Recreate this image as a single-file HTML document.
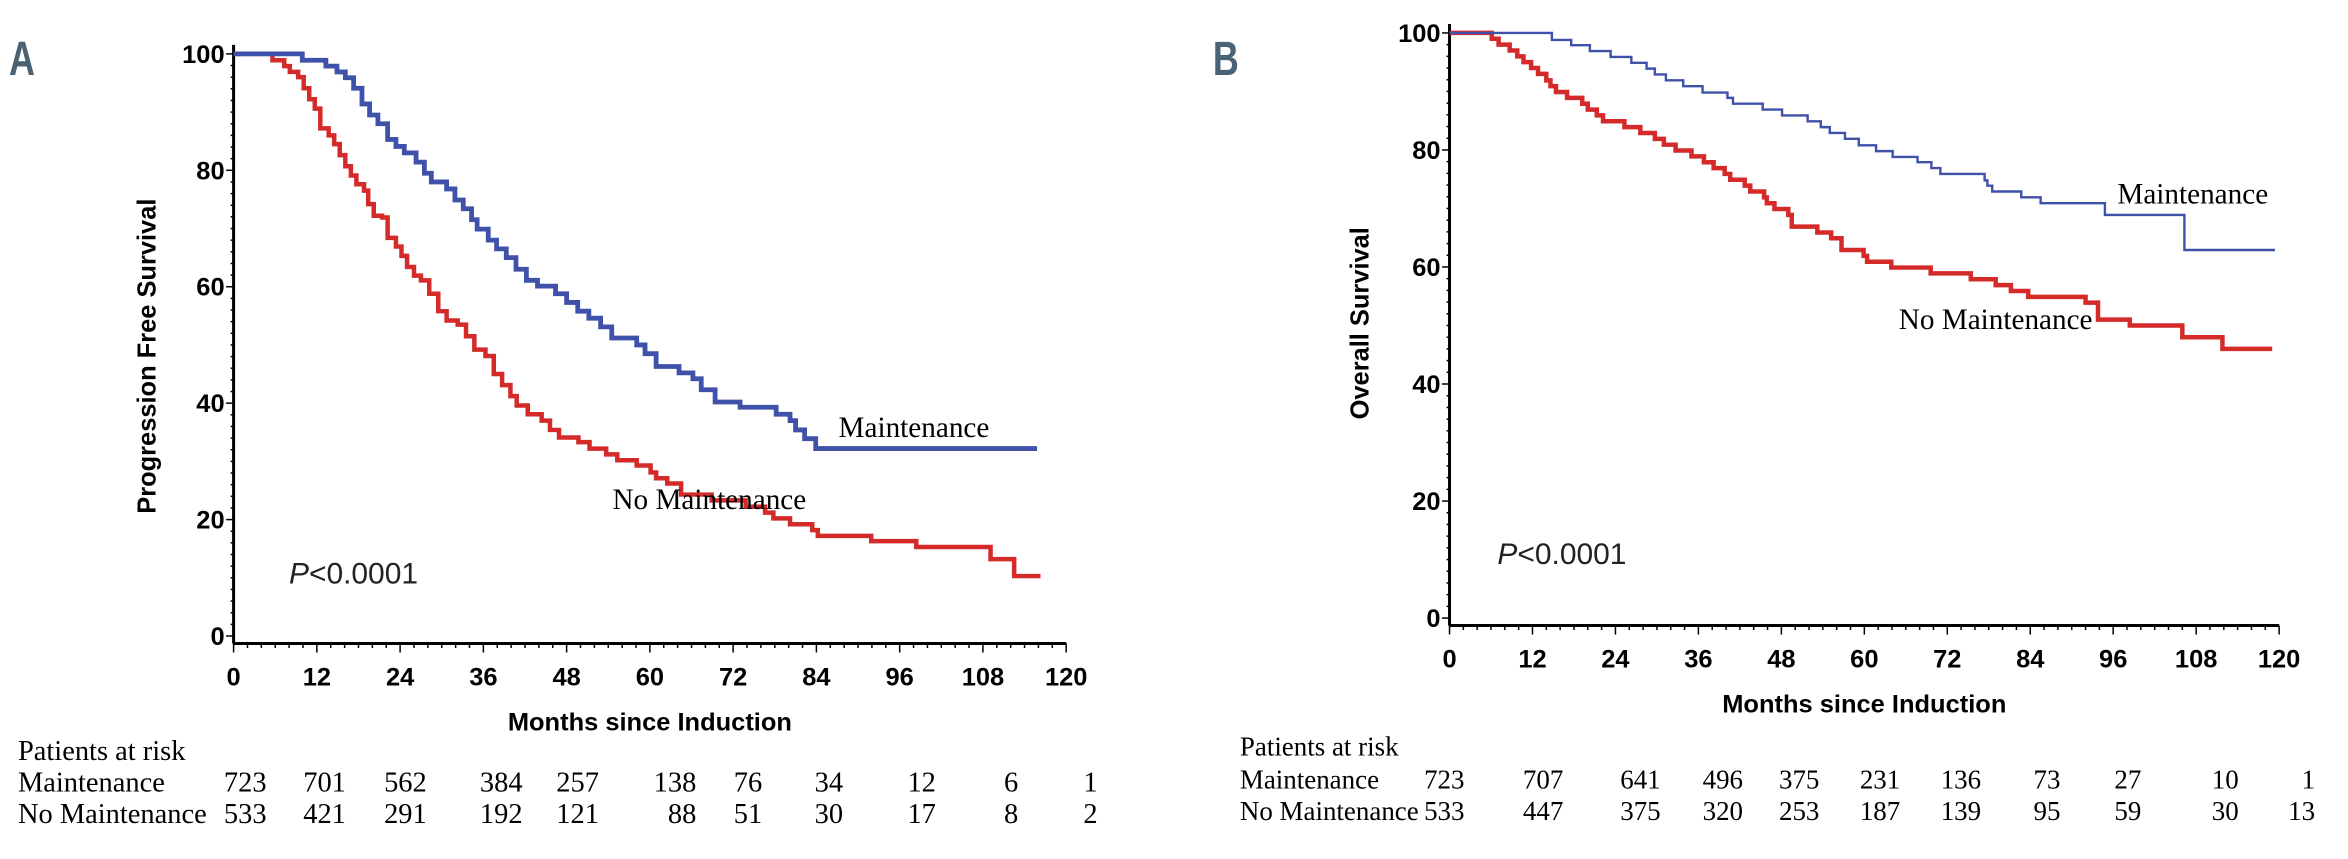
<!DOCTYPE html>
<html><head><meta charset="utf-8"><style>
html,body{margin:0;padding:0;background:#fff;}
svg{display:block;}
.tick{font-family:"Liberation Sans",sans-serif;font-weight:bold;font-size:17px;fill:#000;}
.title{font-family:"Liberation Sans",sans-serif;font-weight:bold;font-size:17px;fill:#000;}
.serif{font-family:"Liberation Serif",serif;font-size:19.5px;fill:#000;}
.rserif{font-family:"Liberation Serif",serif;font-size:19px;fill:#000;}
.rserifb{font-family:"Liberation Serif",serif;font-size:18px;fill:#000;}
.pv{font-family:"Liberation Sans",sans-serif;font-size:20px;fill:#222;}
.panel{font-family:"Liberation Sans",sans-serif;font-weight:bold;font-size:32px;fill:#4a6274;}
</style></head><body>
<svg id="fig" width="2348" height="859" viewBox="0 0 1568 574" preserveAspectRatio="none" xmlns="http://www.w3.org/2000/svg">
<text class="panel" x="6" y="50" transform="translate(6,50) scale(0.75,1) translate(-6,-50)">A</text>
<text class="panel" x="810" y="50" transform="translate(810,50) scale(0.75,1) translate(-810,-50)">B</text>
</svg>
<script>
// ---- Data ----
const xTicks = [0,12,24,36,48,60,72,84,96,108,120];
const yTicks = [0,20,40,60,80,100];
// Panel A (PFS) step points [month, survival %]
const pfsMaintMonths = [0,9.9,13.3,14.9,16.1,17.3,18.5,19.6,20.8,22.2,23.4,24.6,26.3,27.5,28.5,30.7,31.9,33.1,34.3,35.1,36.7,37.9,39.3,40.7,42.2,43.8,46.4,48,49.6,51.2,52.9,54.5,58.1,59.3,60.9,64.2,66.2,67.4,69.4,73,78.2,80.2,81,82.3,83.9,115.8];
const pfsMaintValues = [100,98.9,97.9,96.9,95.9,94.1,91.4,89.5,88,85.3,84.1,83,81.4,79.5,78,76.8,74.9,73.4,71.5,69.9,68,66.5,65,63,61.1,60.1,58.8,57.3,55.8,54.6,53.1,51.2,50,48.5,46.3,45.2,44.2,42.3,40.2,39.3,38.1,37,35.4,33.9,32.2,32.2];
const pfsNoMaintMonths = [0,5.6,7.3,8.1,9.3,10.1,10.9,11.7,12.5,13.7,14.5,15.3,16.1,16.9,17.7,18.8,19.4,20.2,21.4,22.2,23.4,24.2,25,26,27,28.2,29.5,30.7,32.3,33.5,34.7,36.3,37.5,38.7,39.9,40.8,42.4,44.4,45.6,46.9,49.7,51.3,53.7,55.3,58.1,60.1,60.9,62.5,64.5,68.9,73.8,76.6,77.8,80.2,83.4,84.2,91.9,98.4,109.1,112.5,116.3];
const pfsNoMaintValues = [100,98.9,97.9,96.9,96,94.1,92.2,90.6,87.2,86,84.5,82.6,80.7,79.1,77.6,76.5,74.2,72.2,71.9,68.4,66.9,65.3,63.4,61.9,61.1,58.8,55.8,54.2,53.5,51.5,49.2,48.1,45,43.1,41.2,39.6,38.1,37,35.4,34.1,33.3,32.2,31.2,30.2,29.3,28.1,27.1,26.2,24.3,23.3,22.2,21.2,20.2,19.2,18.2,17.2,16.3,15.3,13.2,10.3,10.3];
// Panel B (OS)
const osMaintMonths = [0,14.8,17.6,20.3,23.3,26.3,28.5,29.7,31.3,33.8,36.6,40.2,41,45.3,48.1,51.8,53.7,55,57.2,59.2,61.7,64.1,67.7,69.7,71,77.4,77.8,78.5,82.7,85.5,94.8,106.3,119.4];
const osMaintValues = [100,98.8,97.9,96.9,95.9,94.9,93.9,92.9,91.9,90.9,89.8,88.9,87.9,86.9,85.9,84.9,83.9,82.9,81.9,80.8,79.8,78.8,77.9,76.9,75.9,74.8,73.9,72.9,71.9,70.9,68.9,62.9,62.9];
const osNoMaintMonths = [0,6.1,7.1,8.7,9.8,10.7,11.8,12.8,14,14.6,15.4,17,19.2,20,21.3,22.2,25.3,27.6,29.7,31,32.7,35,36.8,38.2,39.8,40.6,42.7,43.5,45.5,45.9,47,49,49.5,53.2,55.2,56.7,59.9,60.4,63.9,69.6,75.4,79,81.2,83.7,92,93.8,98.4,106,111.8,119];
const osNoMaintValues = [100,99,98,97,96,95,94,93,91.9,90.9,89.9,88.9,87.9,86.9,85.9,84.9,83.9,82.9,81.9,80.9,79.9,78.9,77.9,76.9,75.9,74.9,73.9,72.9,71.9,70.9,69.9,68.9,66.9,65.9,64.9,62.9,61.9,60.9,59.9,58.9,57.9,56.9,55.9,54.9,53.9,51,50,48,46,46];
// Risk tables
const riskA_maint = ["723","701","562","384","257","138","76","34","12","6","1"];
const riskA_no = ["533","421","291","192","121","88","51","30","17","8","2"];
const riskB_maint = ["723","707","641","496","375","231","136","73","27","10","1"];
const riskB_no = ["533","447","375","320","253","187","139","95","59","30","13"];
const riskA_x = [178,231,285,349,400,465,509,563,625,680,733];
const riskB_x = [978,1044,1109,1164,1215,1269,1323,1376,1430,1495,1546];

const NS='http://www.w3.org/2000/svg';
const svg=document.getElementById('fig');
function mk(tag,attrs,parent){const e=document.createElementNS(NS,tag);for(const k in attrs)e.setAttribute(k,attrs[k]);(parent||svg).appendChild(e);return e;}

function panel(cfg){
  const g=mk('g',{});
  
  
  const xs=m=>cfg.x0+(cfg.x1-cfg.x0)*m/120;
  const ys=v=>cfg.y0+(cfg.y100-cfg.y0)*v/100;
  const axisY=cfg.axisY;
  const ya=mk('line',{x1:cfg.x0,x2:cfg.x0,y1:cfg.y100-6,y2:axisY,stroke:'#000','stroke-width':2},g);
  
  
  const xa=mk('line',{x1:cfg.x0,x2:cfg.x1,y1:axisY,y2:axisY,stroke:'#000','stroke-width':2},g);
  
  
  for(let m=0;m<=120;m+=2){mk('line',{x1:xs(m),x2:xs(m),y1:axisY,y2:axisY+(m%12===0?6:3),stroke:'#000','stroke-width':1},g);}
  for(let v=0;v<=100;v+=2){mk('line',{x1:cfg.x0,x2:cfg.x0-(v%20===0?5:2),y1:ys(v),y2:ys(v),stroke:'#000','stroke-width':1},g);}
  xTicks.forEach(t=>{const e=mk('text',{x:xs(t),y:cfg.xLabY,'text-anchor':'middle',class:'tick'},g);e.textContent=t;
    
    });
  yTicks.forEach(t=>{const e=mk('text',{x:cfg.x0-6,y:ys(t)+6,'text-anchor':'end',class:'tick'},g);e.textContent=t;
    
    });
  function curve(ms,vs,color,w,name){
    let d='M'+xs(ms[0])+','+ys(vs[0]);
    for(let i=1;i<ms.length;i++){d+=' H'+xs(ms[i])+' V'+ys(vs[i]);}
    const p=mk('path',{d:d,fill:'none',stroke:color,'stroke-width':w,'stroke-linejoin':'miter'},g);
    
    
  }
  curve(cfg.nm,cfg.nv,'#d42a2a',3,'no-maintenance-curve');
  curve(cfg.mm,cfg.mv,'#3f51a8',cfg.blueW,'maintenance-curve');
  const xt=mk('text',{x:cfg.xTitleX,y:cfg.xTitleY,'text-anchor':'middle',class:'title'},g);xt.textContent='Months since Induction';
  
  
  const yt=mk('text',{x:0,y:0,'text-anchor':'middle',class:'title',transform:'translate('+cfg.yTitleX+','+cfg.yTitleY+') rotate(-90)'},g);yt.textContent=cfg.yTitle;
  
  
  const l1=mk('text',{x:cfg.mLab[0],y:cfg.mLab[1],class:'serif'},g);l1.textContent='Maintenance';
  
  
  const l2=mk('text',{x:cfg.nLab[0],y:cfg.nLab[1],class:'serif'},g);l2.textContent='No Maintenance';
  
  
  const pv=mk('text',{x:cfg.pLab[0],y:cfg.pLab[1],class:'pv'},g);
  
  
  const ti=mk('tspan',{'font-style':'italic'},pv);ti.textContent='P';
  const t2=mk('tspan',{},pv);t2.textContent='<0.0001';
  // risk table
  const rc=cfg.riskClass;
  const r0=mk('text',{x:cfg.riskX,y:cfg.riskY[0],class:rc},g);r0.textContent='Patients at risk';
  
  
  const r1=mk('text',{x:cfg.riskX,y:cfg.riskY[1],class:rc},g);r1.textContent='Maintenance';
  
  
  const r2=mk('text',{x:cfg.riskX,y:cfg.riskY[2],class:rc},g);r2.textContent='No Maintenance';
  
  
  cfg.rm.forEach((v,i)=>{const e=mk('text',{x:cfg.rx[i],y:cfg.riskY[1],'text-anchor':'end',class:rc},g);e.textContent=v;
    
    });
  cfg.rn.forEach((v,i)=>{const e=mk('text',{x:cfg.rx[i],y:cfg.riskY[2],'text-anchor':'end',class:rc},g);e.textContent=v;
    
    });
}

panel({name:'panel-a-pfs',x0:156,x1:712,y0:425,y100:36,axisY:430,xLabY:458,
  mm:pfsMaintMonths,mv:pfsMaintValues,nm:pfsNoMaintMonths,nv:pfsNoMaintValues,blueW:3.2,
  xTitleX:434,xTitleY:488,yTitle:'Progression Free Survival',yTitleX:104,yTitleY:238,
  mLab:[560,292],nLab:[409,340],pLab:[193,390],riskClass:'rserif',
  riskX:12,riskY:[508,529,550],rx:riskA_x,rm:riskA_maint,rn:riskA_no});
panel({name:'panel-b-os',x0:968,x1:1522,y0:413,y100:22,axisY:418,xLabY:446,
  mm:osMaintMonths,mv:osMaintValues,nm:osNoMaintMonths,nv:osNoMaintValues,blueW:1.6,
  xTitleX:1245,xTitleY:476,yTitle:'Overall Survival',yTitleX:914,yTitleY:216,
  mLab:[1414,136],nLab:[1268,220],pLab:[1000,377],riskClass:'rserifb',
  riskX:828,riskY:[505,527,548],rx:riskB_x,rm:riskB_maint,rn:riskB_no});
</script>
</body></html>
